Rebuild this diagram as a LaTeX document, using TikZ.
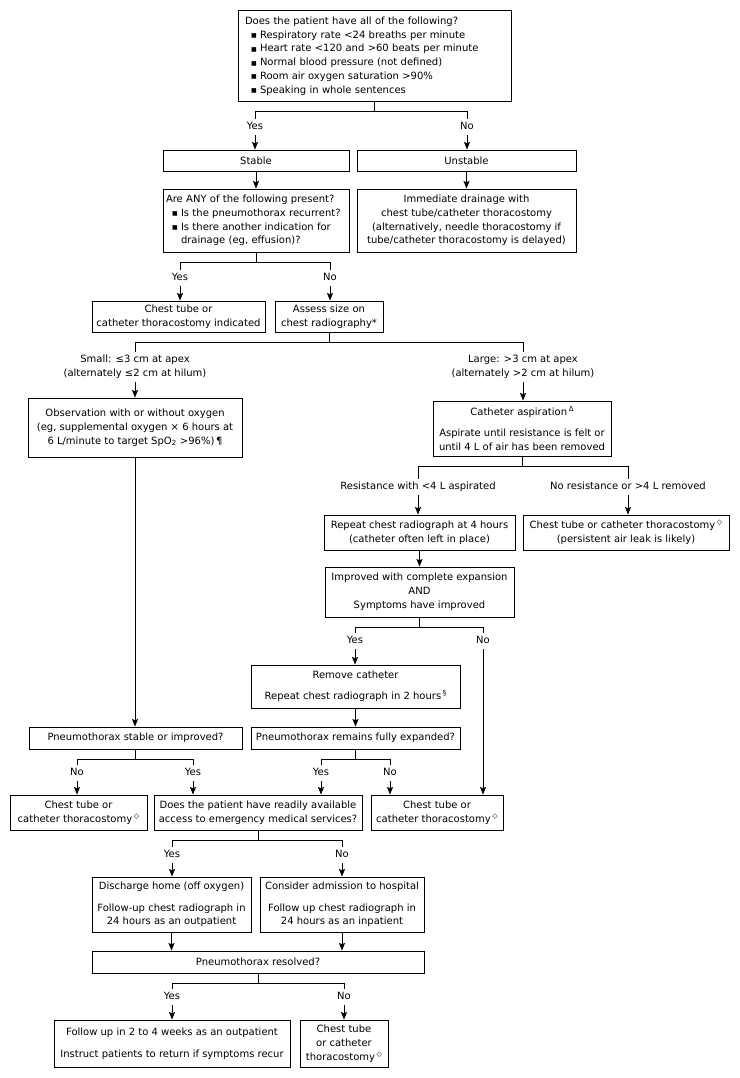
\documentclass[tikz,border=0pt]{standalone}
\usepackage{fontspec}
\setmainfont{DejaVu Sans}
\usetikzlibrary{arrows.meta}
\newcommand{\supx}[1]{\,\raisebox{4pt}{\fontsize{7}{7}\selectfont #1}}
\newcommand{\dmd}{\supx{◇}}
\newcommand{\bul}{\raisebox{0.6pt}{\fontsize{6}{6}\selectfont ■}}
\tikzset{
  box/.style={draw, line width=0.9pt, inner sep=0pt, align=center, font=\fontsize{10}{13.8}\selectfont},
  lbl/.style={inner sep=3.3pt, text height=7.5pt, text depth=2pt, font=\fontsize{10}{13.8}\selectfont},
  lbl2/.style={inner sep=3pt, align=center, font=\fontsize{10}{13.8}\selectfont},
  conn/.style={line width=0.9pt},
  arr/.style={line width=0.9pt, -{Stealth[length=7.5pt,width=6pt,inset=1.2pt]}}
}
\begin{document}
\begin{tikzpicture}[x=1pt,y=-1pt]
\fill[white] (0,0) rectangle (739,1078);
\useasboundingbox (0,0) rectangle (739,1078);

% boxes
\node[box, minimum width=273pt, minimum height=91pt, text width=259pt, align=left] (q1) at (374.5,56)
 {Does the patient have all of the following?\\
  \hspace*{6pt}\bul\ Respiratory rate <24 breaths per minute\\
  \hspace*{6pt}\bul\ Heart rate <120 and >60 beats per minute\\
  \hspace*{6pt}\bul\ Normal blood pressure (not defined)\\
  \hspace*{6pt}\bul\ Room air oxygen saturation >90\%\\
  \hspace*{6pt}\bul\ Speaking in whole sentences};
\node[box, minimum width=186pt, minimum height=21pt] (st) at (256,160.5) {Stable};
\node[box, minimum width=219pt, minimum height=21pt] (un) at (466.5,160.5) {Unstable};
\node[box, minimum width=186pt, minimum height=63pt, text width=180pt, align=left] (any) at (256,220.5)
 {Are ANY of the following present?\\
  \hspace*{6pt}\bul\ Is the pneumothorax recurrent?\\
  \hspace*{6pt}\bul\ Is there another indication for\\
  \hspace*{15pt}drainage (eg, effusion)?};
\node[box, minimum width=219pt, minimum height=63pt] (imm) at (466.5,220.5)
 {Immediate drainage with\\chest tube/catheter thoracostomy\\(alternatively, needle thoracostomy if\\tube/catheter thoracostomy is delayed)};
\node[box, minimum width=173pt, minimum height=31pt] (cti) at (178.5,316.5) {Chest tube or\\catheter thoracostomy indicated};
\node[box, minimum width=108pt, minimum height=31pt] (as) at (329,316.5) {Assess size on\\chest radiography*};
\node[box, minimum width=214pt, minimum height=59pt] (obs) at (135,427.5)
 {Observation with or without oxygen\\(eg, supplemental oxygen × 6 hours at\\6 L/minute to target SpO\textsubscript{2} >96\%)\,¶};
\node[box, minimum width=178pt, minimum height=55pt] (cat) at (522,428.5)
 {Catheter aspiration\supx{Δ}\\[8pt]Aspirate until resistance is felt or\\until 4 L of air has been removed};
\node[box, minimum width=191pt, minimum height=35pt] (rep) at (419.5,532.5)
 {Repeat chest radiograph at 4 hours\\(catheter often left in place)};
\node[box, minimum width=206pt, minimum height=35pt] (ctp) at (626,532.5)
 {Chest tube or catheter thoracostomy\dmd\\(persistent air leak is likely)};
\node[box, minimum width=189pt, minimum height=50pt] (imp) at (419.5,592)
 {Improved with complete expansion\\AND\\Symptoms have improved};
\node[box, minimum width=209pt, minimum height=43pt] (rem) at (355.5,686.5)
 {Remove catheter\\[7.5pt]Repeat chest radiograph in 2 hours\supx{§}};
\node[box, minimum width=213pt, minimum height=22pt] (pst) at (135.5,738) {Pneumothorax stable or improved?};
\node[box, minimum width=209pt, minimum height=22pt] (pre) at (355.5,738) {Pneumothorax remains fully expanded?};
\node[box, minimum width=137pt, minimum height=35pt] (ctl) at (78.5,812.5) {Chest tube or\\catheter thoracostomy\dmd};
\node[box, minimum width=208pt, minimum height=35pt] (ems) at (258,812.5)
 {Does the patient have readily available\\access to emergency medical services?};
\node[box, minimum width=132pt, minimum height=35pt] (ctr) at (437,812.5) {Chest tube or\\catheter thoracostomy\dmd};
\node[box, minimum width=159pt, minimum height=55pt] (dis) at (171.5,904.5)
 {Discharge home (off oxygen)\\[7.5pt]Follow-up chest radiograph in\\24 hours as an outpatient};
\node[box, minimum width=164pt, minimum height=55pt] (adm) at (342,904.5)
 {Consider admission to hospital\\[7.5pt]Follow up chest radiograph in\\24 hours as an inpatient};
\node[box, minimum width=332pt, minimum height=22pt] (res) at (258,962) {Pneumothorax resolved?};
\node[box, minimum width=236pt, minimum height=47pt] (fol) at (172,1043.5)
 {Follow up in 2 to 4 weeks as an outpatient\\[8pt]Instruct patients to return if symptoms recur};
\node[box, minimum width=88pt, minimum height=47pt] (ctb) at (344,1043.5)
 {Chest tube\\or catheter\\thoracostomy\dmd};

% labels
\node[lbl] (y1) at (255,127) {Yes};
\node[lbl] (n1) at (467,127) {No};
\node[lbl] (y2) at (180,278) {Yes};
\node[lbl] (n2) at (330,278) {No};
\node[lbl2] (sm) at (135,367) {Small: ≤3 cm at apex\\(alternately ≤2 cm at hilum)};
\node[lbl2] (lg) at (523,367) {Large: >3 cm at apex\\(alternately >2 cm at hilum)};
\node[lbl] (rs) at (418,487) {Resistance with <4 L aspirated};
\node[lbl] (nr) at (628,487) {No resistance or >4 L removed};
\node[lbl] (y3) at (355,641) {Yes};
\node[lbl] (n3) at (483,641) {No};
\node[lbl] (n4) at (77,773) {No};
\node[lbl] (y4) at (193,773) {Yes};
\node[lbl] (y5) at (321,773) {Yes};
\node[lbl] (n5) at (390,773) {No};
\node[lbl] (y6) at (172,855) {Yes};
\node[lbl] (n6) at (342,855) {No};
\node[lbl] (y7) at (172,997) {Yes};
\node[lbl] (n7) at (344,997) {No};

% connectors
\draw[conn] (q1.south) -- ++(0,10) -| (y1.north);
\draw[conn] (q1.south) ++(0,10) -| (n1.north);
\draw[arr] (y1.south) -- (y1.south |- st.north);
\draw[arr] (n1.south) -- (n1.south |- un.north);
\draw[arr] (st.south) -- (any.north);
\draw[arr] (un.south) -- (imm.north);

\draw[conn] (any.south) -- ++(0,10) -| (y2.north);
\draw[conn] (any.south) ++(0,10) -| (n2.north);
\draw[arr] (y2.south) -- (y2.south |- cti.north);
\draw[arr] (n2.south) -- (n2.south |- as.north);

\draw[conn] (as.south) -- ++(0,10) -| (sm.north);
\draw[conn] (as.south) ++(0,10) -| (lg.north);
\draw[arr] (sm.south) -- (sm.south |- obs.north);
\draw[arr] (lg.south) -- (lg.south |- cat.north);

\draw[conn] (cat.south) -- ++(0,10) -| (rs.north);
\draw[conn] (cat.south) ++(0,10) -| (nr.north);
\draw[arr] (rs.south) -- (rs.south |- rep.north);
\draw[arr] (nr.south) -- (nr.south |- ctp.north);

\draw[arr] (rep.south) -- (rep.south |- imp.north);
\draw[conn] (imp.south) -- ++(0,10) -| (y3.north);
\draw[conn] (imp.south) ++(0,10) -| (n3.north);
\draw[arr] (y3.south) -- (y3.south |- rem.north);
\draw[arr] (n3.south) -- (n3.south |- ctr.north);

\draw[arr] (obs.south) -- (obs.south |- pst.north);
\draw[arr] (rem.south) -- (rem.south |- pre.north);

\draw[conn] (pst.south) -- ++(0,10) -| (n4.north);
\draw[conn] (pst.south) ++(0,10) -| (y4.north);
\draw[arr] (n4.south) -- (n4.south |- ctl.north);
\draw[arr] (y4.south) -- (y4.south |- ems.north);

\draw[conn] (pre.south) -- ++(0,10) -| (y5.north);
\draw[conn] (pre.south) ++(0,10) -| (n5.north);
\draw[arr] (y5.south) -- (y5.south |- ems.north);
\draw[arr] (n5.south) -- (n5.south |- ctr.north);

\draw[conn] (ems.south) -- ++(0,10) -| (y6.north);
\draw[conn] (ems.south) ++(0,10) -| (n6.north);
\draw[arr] (y6.south) -- (y6.south |- dis.north);
\draw[arr] (n6.south) -- (n6.south |- adm.north);

\draw[arr] (dis.south) -- (dis.south |- res.north);
\draw[arr] (adm.south) -- (adm.south |- res.north);

\draw[conn] (res.south) -- ++(0,10) -| (y7.north);
\draw[conn] (res.south) ++(0,10) -| (n7.north);
\draw[arr] (y7.south) -- (y7.south |- fol.north);
\draw[arr] (n7.south) -- (n7.south |- ctb.north);
\end{tikzpicture}
\end{document}
